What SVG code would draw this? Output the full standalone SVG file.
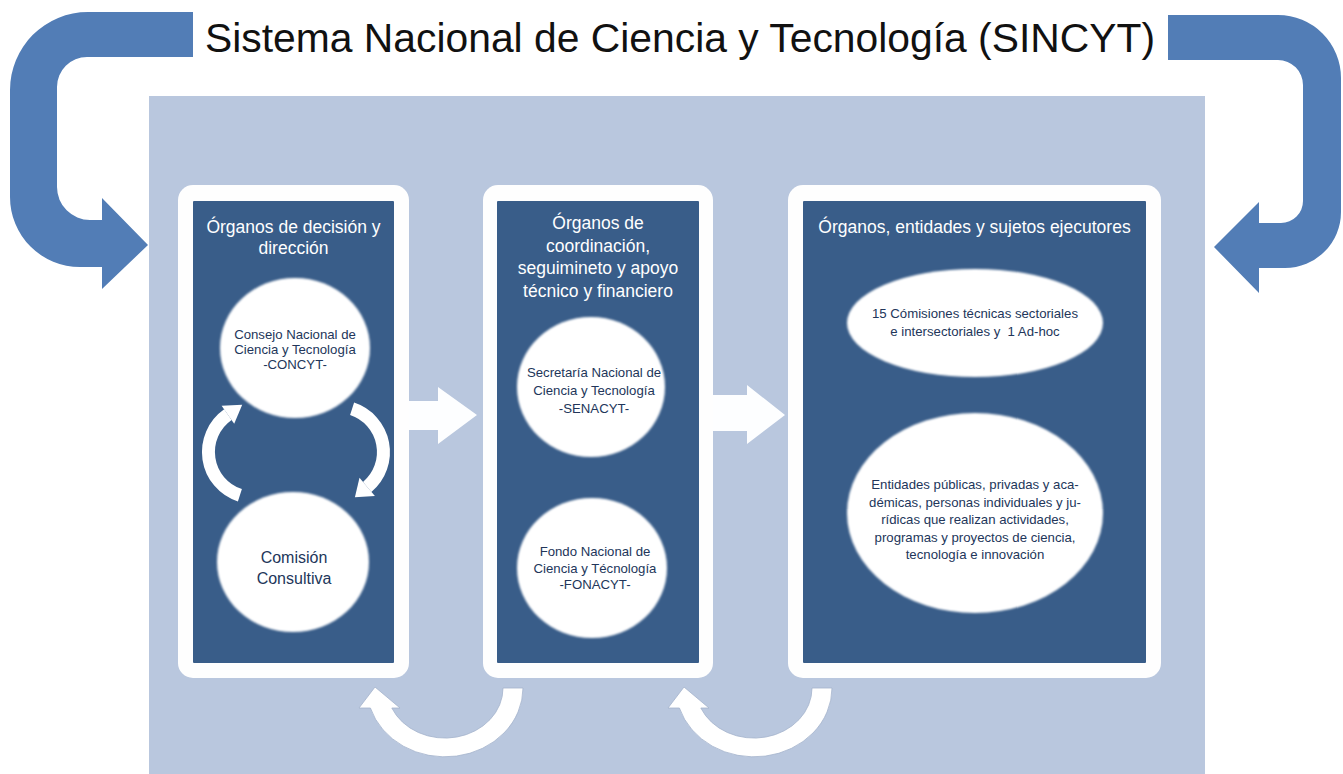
<svg xmlns="http://www.w3.org/2000/svg" width="1343" height="774" viewBox="0 0 1343 774">
<style>
.bigarrow{fill:#527db6}
.panelOuter{fill:#fefefe}
.panelInner{fill:#395d89}
.hdr{font-family:"Liberation Sans",Arial,sans-serif;font-size:17.5px;fill:#ffffff;text-anchor:middle}
.ctx{font-family:"Liberation Sans",Arial,sans-serif;font-size:13.2px;fill:#22365a;text-anchor:middle}
.ctxL{font-family:"Liberation Sans",Arial,sans-serif;font-size:16px;fill:#22365a;text-anchor:middle}
.blob{fill:#ffffff;filter:url(#soft)}
.wArrow{fill:#fdfeff}
.uArrow{fill:#ffffff;stroke:#a3b2cb;stroke-width:0.8}
.arc{fill:none;stroke:#ffffff;stroke-width:13}
.arcHead{fill:#ffffff}
</style>
<defs>
<filter id="soft" x="-10%" y="-10%" width="120%" height="120%">
<feGaussianBlur stdDeviation="1.1"/>
</filter>
</defs>
<rect width="1343" height="774" fill="#ffffff"/>
<rect id="background" x="149" y="96" width="1056" height="678" fill="#b9c7de"/>
<g id="title">
<text x="205" y="52" font-family="'Liberation Sans',Arial,sans-serif" font-size="40" fill="#111111" textLength="950" lengthAdjust="spacingAndGlyphs">Sistema Nacional de Ciencia y Tecnología (SINCYT)</text>
</g>
<g id="panel-decision">
<rect class="panelOuter" x="178" y="185" width="231" height="493" rx="15"/>
<rect class="panelInner" x="193" y="201" width="201" height="462" rx="1"/>
<text class="hdr" x="293.5" y="233">Órganos de decisión y</text>
<text class="hdr" x="293.5" y="254">dirección</text>
</g>
<g id="node-concyt">
<ellipse class="blob" cx="295" cy="348" rx="75" ry="70"/>
<text class="ctx" x="295" y="339">Consejo Nacional de</text>
<text class="ctx" x="295" y="354">Ciencia y Tecnología</text>
<text class="ctx" x="295" y="369">-CONCYT-</text>
</g>
<g id="node-comision">
<ellipse class="blob" cx="293" cy="562" rx="76" ry="70"/>
<text class="ctxL" x="294" y="563">Comisión</text>
<text class="ctxL" x="294" y="584">Consultiva</text>
</g>
<g id="panel-coordinacion">
<rect class="panelOuter" x="483" y="185" width="230" height="493" rx="15"/>
<rect class="panelInner" x="497" y="201" width="202" height="462" rx="1"/>
<text class="hdr" x="598" y="229">Órganos de</text>
<text class="hdr" x="598" y="252">coordinación,</text>
<text class="hdr" x="598" y="274">seguimineto y apoyo</text>
<text class="hdr" x="598" y="297">técnico y financiero</text>
</g>
<g id="node-senacyt">
<ellipse class="blob" cx="591" cy="387" rx="74" ry="70"/>
<text class="ctx" x="594" y="377">Secretaría Nacional de</text>
<text class="ctx" x="594" y="395">Ciencia y Tecnología</text>
<text class="ctx" x="594" y="413">-SENACYT-</text>
</g>
<g id="node-fonacyt">
<ellipse class="blob" cx="592" cy="568" rx="75" ry="70"/>
<text class="ctx" x="595" y="556">Fondo Nacional de</text>
<text class="ctx" x="595" y="573">Ciencia y Técnología</text>
<text class="ctx" x="595" y="589">-FONACYT-</text>
</g>
<g id="panel-ejecutores">
<rect class="panelOuter" x="788" y="185" width="373" height="493" rx="15"/>
<rect class="panelInner" x="803" y="201" width="343" height="462" rx="1"/>
<text class="hdr" x="974.5" y="233">Órganos, entidades y sujetos ejecutores</text>
</g>
<g id="node-comisiones">
<ellipse class="blob" cx="975" cy="323" rx="128" ry="54"/>
<text class="ctx" x="975" y="318">15 Cómisiones técnicas sectoriales</text>
<text class="ctx" x="975" y="336" style="white-space:pre">e intersectoriales y  1 Ad-hoc</text>
</g>
<g id="node-entidades">
<ellipse class="blob" cx="975" cy="513" rx="128" ry="100"/>
<text class="ctx" x="975" y="489" font-size="12.5">Entidades públicas, privadas y aca-</text>
<text class="ctx" x="975" y="507" font-size="12.5">démicas, personas individuales y ju-</text>
<text class="ctx" x="975" y="524" font-size="12.5">rídicas que realizan actividades,</text>
<text class="ctx" x="975" y="542" font-size="12.5">programas y proyectos de ciencia,</text>
<text class="ctx" x="975" y="559" font-size="12.5">tecnología e innovación</text>
</g>
<g id="connectors">
<path class="bigarrow" d="M193,12 L88,12 A78,78 0 0 0 10,90 L10,197 A70,70 0 0 0 80,267 L102,267 L102,289 L148,245 L102,198 L102,220 L90,220 A33,33 0 0 1 57,187 L57,87 A30,30 0 0 1 87,57 L193,57 Z"/>
<path class="bigarrow" d="M1168,15 L1278,15 A63,63 0 0 1 1341,78 L1341,212 A56,56 0 0 1 1285,268 L1259,268 L1259,293 L1214,247 L1259,202 L1259,223 L1281,223 A22,22 0 0 0 1303,201 L1303,85 A25,25 0 0 0 1278,60 L1168,60 Z"/>
<path class="wArrow" d="M409,401 L438,401 L438,387 L477,415 L438,444 L438,430 L409,430 Z"/>
<path class="wArrow" d="M713,395 L747,395 L747,385 L785,415 L747,444 L747,431 L713,431 Z"/>
<path class="arc" d="M239.9,495.3 A45.5,45.5 0 0 1 227.9,414.7"/>
<polygon class="arcHead" points="221.6,405.7 234.2,423.7 242.2,404.8"/>
<path class="arc" d="M352.1,408.8 A45.5,45.5 0 0 1 367.2,486.9"/>
<polygon class="arcHead" points="374.9,496.1 359.5,477.7 354.9,497.2"/>
<path class="uArrow" d="M523,688 A78,69 0 0 1 370.4,708 L359,708 L375,687 L400,708 L391.8,708 A58,50 0 0 0 503,688 Z"/>
<path class="uArrow" d="M832,688 A78,69 0 0 1 679.4,708 L668,708 L684,687 L709,708 L700.8,708 A58,50 0 0 0 812,688 Z"/>
</g>
</svg>
